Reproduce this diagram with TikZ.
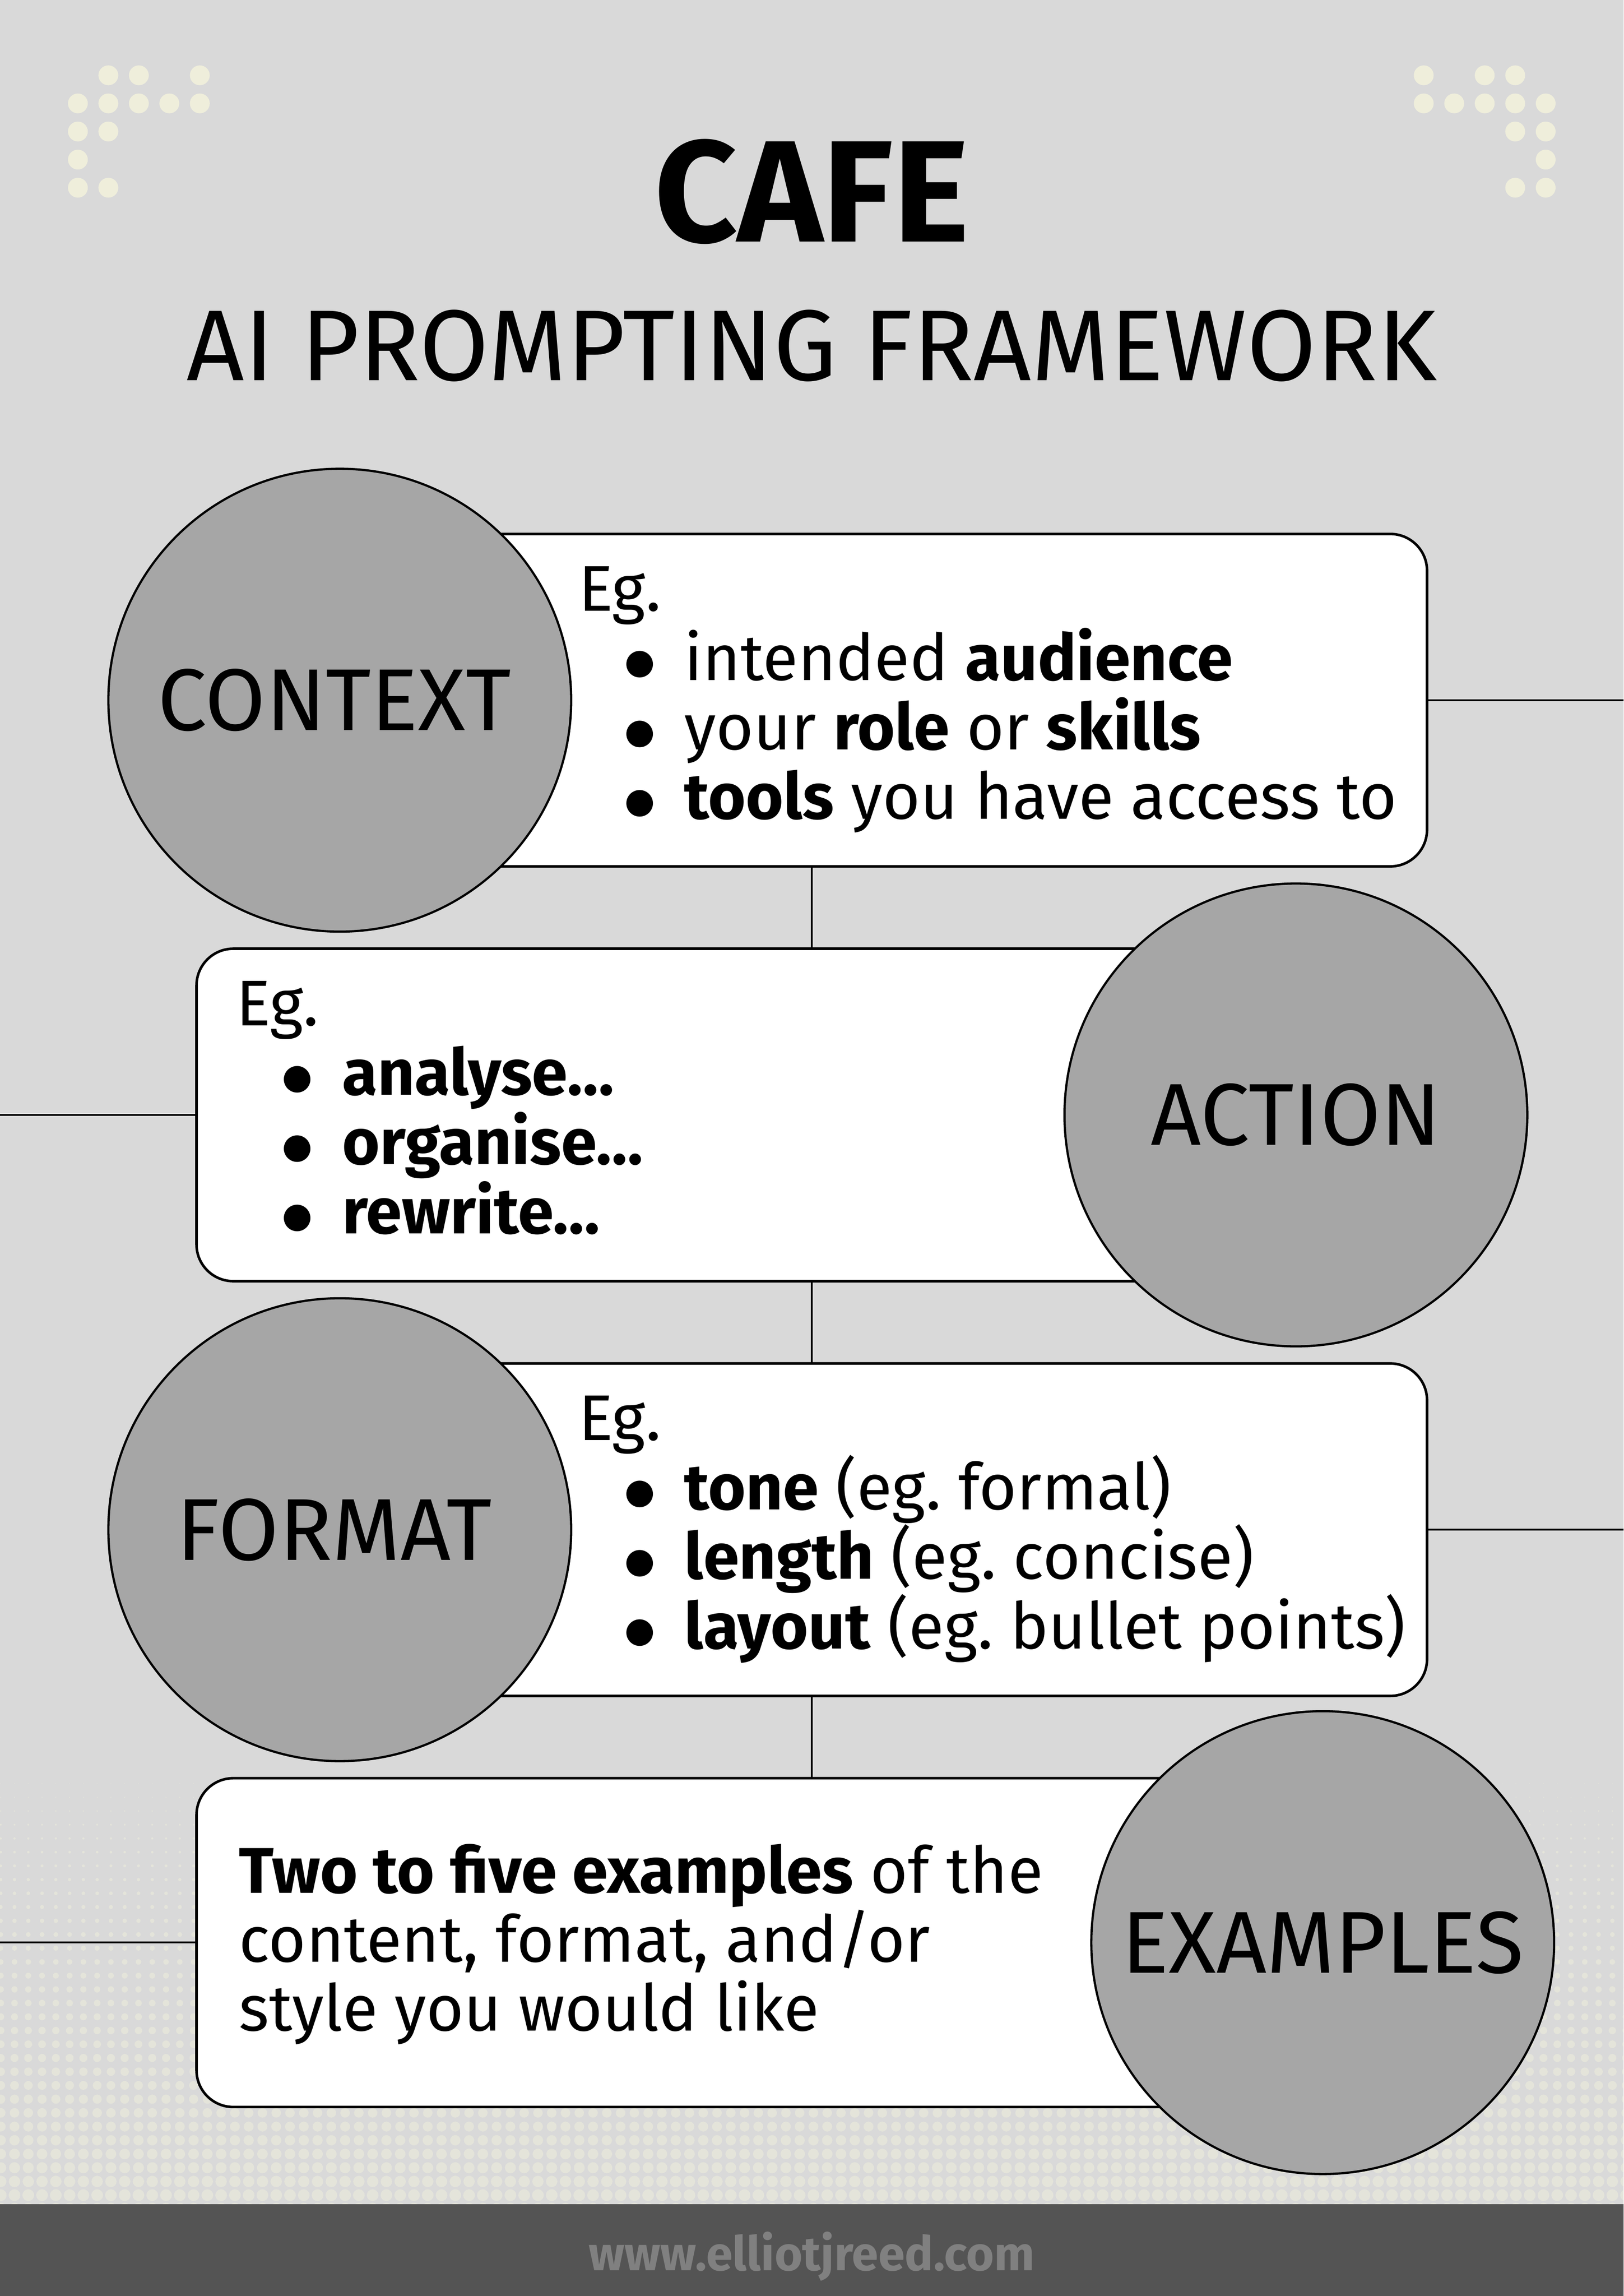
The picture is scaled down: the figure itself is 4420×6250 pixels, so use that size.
\documentclass[tikz,border=0pt]{standalone}
\usepackage{fontspec}
\setmainfont{Fira Sans}
\newfontfamily\bulfont{DejaVu Sans}
\usetikzlibrary{positioning}
\definecolor{bggray}{RGB}{217,217,217}
\definecolor{stagegray}{RGB}{166,166,166}
\definecolor{dotcream}{RGB}{239,238,219}
\definecolor{patcream}{RGB}{228,228,218}
\definecolor{footgray}{RGB}{84,84,84}
\definecolor{urlgray}{RGB}{128,128,128}
\frenchspacing
\newcommand{\bigbul}{\makebox[15.4mm][l]{\kern-0.9mm\raisebox{1.8mm}{\bulfont\fontsize{27}{27}\selectfont ●}}}

\begin{document}
\begin{tikzpicture}[x=0.1mm,y=-0.1mm,node distance=22.4mm]
\tikzstyle{stage}=[circle, minimum size=126mm, inner sep=0pt, line width=0.6mm, draw=black, fill=stagegray, font=\fontsize{68}{68}\selectfont]
\tikzstyle{card}=[rectangle, rounded corners=10mm, minimum width=335mm, minimum height=90.5mm, outer sep=0pt, line width=0.7mm, draw=black, fill=white]
\tikzstyle{connect}=[line width=0.5mm, draw=black]
\tikzstyle{txt}=[anchor=base west, inner sep=0pt, font=\fontsize{50}{54}\selectfont]
\useasboundingbox (0,0) rectangle (4420,6250);
\fill[bggray] (0,0) rectangle (4420,6250);
% dotted texture at the bottom
\begin{scope}
\clip (0,4820) rectangle (4420,6000);
\foreach \r in {0,...,31} {
  \pgfmathsetmacro\rad{1+0.5*\r}
  \foreach \c in {0,...,118}
    \fill[patcream] (2+37.5*\c,4855+37.35*\r) circle[radius=\rad];
}
\end{scope}
% corner dots
\foreach \c/\r in {1/0,2/0,4/0,0/1,1/1,2/1,3/1,4/1,0/2,1/2,0/3,0/4,1/4} {
  \fill[dotcream] (212+83*\c,205+76.5*\r) circle[radius=27];
  \fill[dotcream] (4208-83*\c,205+76.5*\r) circle[radius=27];
}
% title
\node[anchor=base, inner sep=0pt, font=\fontsize{112}{112}\selectfont\bfseries] (title) at (2210,658) {CAFE};
\node[anchor=base, inner sep=0pt, font=\fontsize{78}{78}\selectfont] (subtitle) at (2210,1036) {AI PROMPTING FRAMEWORK};
% cards
\node[card] (box1) at (2210,1906) {};
\node[card] (box2) [below=of box1] {};
\node[card] (box3) [below=of box2] {};
\node[card, minimum height=89.5mm] (box4) [below=of box3] {};
% card texts
\node[txt] (eg1) at ([xshift=104mm,yshift=-20.9mm]box1.north west) {Eg.};
\foreach \t [count=\i] in {{intended \textbf{audience}},{your \textbf{role} or \textbf{skills}},{\textbf{tools} you have access to}}
  \node[txt] (item1\i) at ([xshift=13.4mm,yshift=-\i*18.9mm]eg1.base west) {\bigbul\t};
\node[txt] (eg2) at ([xshift=10.8mm,yshift=-20.9mm]box2.north west) {Eg.};
\foreach \t [count=\i] in {{\textbf{analyse…}},{\textbf{organise…}},{\textbf{rewrite…}}}
  \node[txt] (item2\i) at ([xshift=13.4mm,yshift=-\i*18.9mm]eg2.base west) {\bigbul\t};
\node[txt] (eg3) at ([xshift=104mm,yshift=-20.9mm]box3.north west) {Eg.};
\foreach \t [count=\i] in {{\textbf{tone} (eg. formal)},{\textbf{length} (eg. concise)},{\textbf{layout} (eg. bullet points)}}
  \node[txt] (item3\i) at ([xshift=13.4mm,yshift=-\i*18.9mm]eg3.base west) {\bigbul\t};
\foreach \t [count=\i] in {{\textbf{Two to five examples} of the},{content, format, and/or},{style you would like}}
  \node[txt] (ex\i) at ([xshift=11.5mm,yshift=-31.2mm-(\i-1)*18.8mm]box4.north west) {\t};
% stages
\node[stage] (context) at ([xshift=39mm]box1.west) {\kern-3mm CONTEXT};
\node[stage] (action) at ([xshift=-35.7mm]box2.east) {ACTION};
\node[stage] (format) at ([xshift=39mm]box3.west) {\kern-3mm FORMAT};
\node[stage] (examples) at ([xshift=-28.4mm]box4.east) {EXAMPLES};
% connectors
\coordinate[right=53.5mm of box1.east] (r1);
\coordinate[left=53.5mm of box2.west] (l2);
\coordinate[right=53.5mm of box3.east] (r3);
\coordinate[left=53.5mm of box4.west] (l4);
\draw[connect] (box1.east) -- (r1);
\draw[connect] (box2.west) -- (l2);
\draw[connect] (box3.east) -- (r3);
\draw[connect] (box4.west) -- (l4);
\draw[connect] (box1.south) -- (box2.north);
\draw[connect] (box2.south) -- (box3.north);
\draw[connect] (box3.south) -- (box4.north);
% footer
\fill[footgray] (0,6000) rectangle (4420,6250);
\node[anchor=base, inner sep=0pt, text=urlgray, font=\fontsize{37}{37}\selectfont\bfseries] (url) at (2210,6180) {www.elliotjreed.com};
\end{tikzpicture}
\end{document}
